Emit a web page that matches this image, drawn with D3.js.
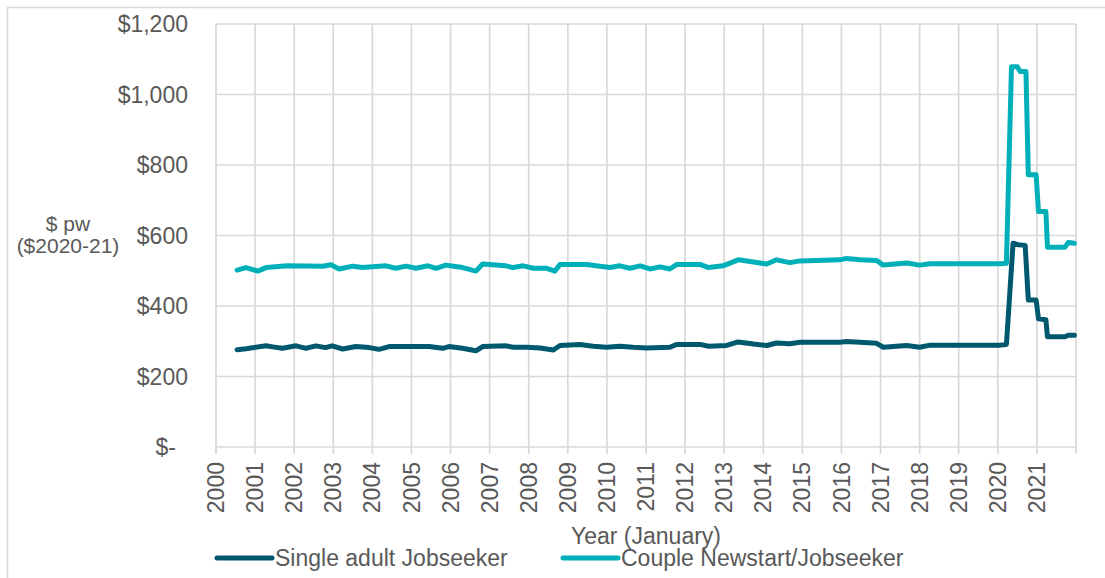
<!DOCTYPE html>
<html lang="en">
    <head>
        <meta charset="UTF-8" />
        <title>Jobseeker payments</title>
        <style>
            body { margin: 0; background: #ffffff; }
            text { font-family: "Liberation Sans", Arial, sans-serif; fill: #595959; }
        </style>
    </head>
    <body>
        <div id="chart"></div>
        <script src="https://d3js.org/d3.v7.min.js"></script>
        <script>

            // year ticks on the x axis (January of each year)
            var yearTicks = d3.range(2000, 2023);
            var yearLabels = d3.range(2000, 2022);

            // y axis ticks
            var valueTicks = [0, 200, 400, 600, 800, 1000, 1200];

            // series names
            var seriesNames = ["Single adult Jobseeker", "Couple Newstart/Jobseeker"];

            // Single adult Jobseeker, $ pw ($2020-21)
            var singleYears = [2000.54, 2000.77, 2001.28, 2001.45, 2001.70, 2002.05, 2002.30, 2002.56, 2002.80, 2002.97,
                               2003.24, 2003.58, 2003.92, 2004.17, 2004.43, 2005.45, 2005.80, 2005.96, 2006.30, 2006.65,
                               2006.82, 2007.42, 2007.60, 2007.95, 2008.29, 2008.63, 2008.80, 2009.31, 2009.65, 2009.99,
                               2010.33, 2010.67, 2011.01, 2011.61, 2011.79, 2012.38, 2012.60, 2013.06, 2013.36, 2013.75,
                               2014.09, 2014.34, 2014.68, 2014.94, 2015.96, 2016.13, 2016.47, 2016.90, 2017.07, 2017.67,
                               2018.00, 2018.27, 2020.06, 2020.22, 2020.39, 2020.52, 2020.70, 2020.78, 2020.98, 2021.04,
                               2021.23, 2021.27, 2021.72, 2021.80, 2021.96];
            var singleValues = [276, 279, 287, 284, 280, 287, 280, 287, 282, 287,
                                278, 285, 282, 277, 285, 285, 280, 285, 280, 273,
                                285, 287, 283, 283, 281, 275, 288, 291, 286, 283,
                                286, 283, 281, 283, 291, 291, 286, 288, 298, 292,
                                288, 295, 293, 297, 297, 299, 297, 294, 283, 288,
                                283, 289, 289, 291, 578, 574, 572, 417, 417, 364,
                                361, 313, 313, 317, 317];

            // Couple Newstart/Jobseeker
            var coupleYears = [2000.54, 2000.77, 2001.07, 2001.28, 2001.83, 2002.73, 2002.94, 2003.15, 2003.50, 2003.75,
                               2004.35, 2004.60, 2004.86, 2005.12, 2005.42, 2005.63, 2005.88, 2006.31, 2006.65, 2006.82,
                               2007.42, 2007.60, 2007.86, 2008.12, 2008.46, 2008.67, 2008.80, 2009.48, 2009.82, 2010.08,
                               2010.33, 2010.59, 2010.85, 2011.10, 2011.36, 2011.61, 2011.79, 2012.38, 2012.60, 2012.97,
                               2013.36, 2013.75, 2014.09, 2014.34, 2014.68, 2014.94, 2015.96, 2016.13, 2016.47, 2016.90,
                               2017.07, 2017.67, 2018.00, 2018.27, 2020.06, 2020.22, 2020.35, 2020.50, 2020.57, 2020.72,
                               2020.78, 2020.98, 2021.04, 2021.23, 2021.27, 2021.72, 2021.80, 2021.96];
            var coupleValues = [502, 509, 499, 509, 514, 513, 517, 505, 513, 509,
                                514, 507, 513, 507, 514, 507, 516, 509, 499, 519,
                                514, 509, 514, 507, 507, 499, 518, 518, 513, 509,
                                514, 507, 514, 505, 511, 505, 518, 518, 509, 514,
                                531, 525, 519, 531, 523, 528, 531, 535, 531, 529,
                                516, 522, 516, 520, 520, 521, 1079, 1079, 1065, 1065,
                                772, 772, 668, 668, 567, 567, 580, 578];

            var colors = ["#00586f", "#00b0b9"];

            var width = 1105, height = 578;
            var plot = {left: 216, right: 1076, top: 24, bottom: 447};

            var svg = d3.select("#chart")
              .append("svg")
                .attr("width", width)
                .attr("height", height);

            // chart frame (only left and top edges are visible)
            svg.append("path")
              .attr("d", "M7.5," + height + "V7.5H" + width)
              .attr("fill", "none")
              .attr("stroke", "#d9d9d9")
              .attr("stroke-width", 1.5);

            var x = d3.scaleLinear()
              .domain([2000, 2022])
              .range([plot.left, plot.right]);

            var y = d3.scaleLinear()
              .domain([0, 1200])
              .range([plot.bottom, plot.top]);

            // horizontal gridlines
            svg.append("g")
              .selectAll("line")
              .data(valueTicks)
              .enter()
              .append("line")
                .attr("x1", plot.left)
                .attr("x2", plot.right)
                .attr("y1", function(d) { return y(d); })
                .attr("y2", function(d) { return y(d); })
                .attr("stroke", "#d9d9d9")
                .attr("stroke-width", 1.7);

            // vertical gridlines with small tick marks below the axis
            svg.append("g")
              .selectAll("line")
              .data(yearTicks)
              .enter()
              .append("line")
                .attr("x1", function(d) { return x(d); })
                .attr("x2", function(d) { return x(d); })
                .attr("y1", plot.top)
                .attr("y2", plot.bottom + 7)
                .attr("stroke", "#d9d9d9")
                .attr("stroke-width", 1.7);

            // y tick labels
            var fmt = d3.format("$,");
            svg.append("g")
              .selectAll("text")
              .data(valueTicks)
              .enter()
              .append("text")
                .attr("x", function(d) { return d === 0 ? plot.left - 40 : plot.left - 28; })
                .attr("y", function(d) { return y(d); })
                .attr("dy", "0.35em")
                .attr("text-anchor", "end")
                .style("font-size", "23px")
                .text(function(d) { return d === 0 ? "$-" : fmt(d); });

            // x tick labels, rotated
            svg.append("g")
              .selectAll("text")
              .data(yearLabels)
              .enter()
              .append("text")
                .attr("transform", function(d) { return "translate(" + x(d) + "," + (plot.bottom + 15) + ")rotate(-90)"; })
                .attr("dy", "0.35em")
                .attr("text-anchor", "end")
                .style("font-size", "23px")
                .text(function(d) { return d; });

            // axis titles (the x title touches the legend, as in the original)
            svg.append("text")
              .attr("x", (plot.left + plot.right) / 2)
              .attr("y", 544)
              .attr("text-anchor", "middle")
              .style("font-size", "23px")
              .text("Year (January)");

            var ytitle = svg.append("text")
              .attr("text-anchor", "middle")
              .style("font-size", "21px");
            ytitle.append("tspan").attr("x", 68).attr("y", 231).text("$ pw");
            ytitle.append("tspan").attr("x", 68).attr("y", 253).text("($2020-21)");

            // the two series
            var line = d3.line()
              .x(function(d) { return x(d[0]); })
              .y(function(d) { return y(d[1]); });

            var series = [
              d3.zip(singleYears, singleValues),
              d3.zip(coupleYears, coupleValues)
            ];

            svg.append("g")
              .selectAll("path")
              .data(series)
              .enter()
              .append("path")
                .attr("d", line)
                .attr("fill", "none")
                .attr("stroke", function(d, i) { return colors[i]; })
                .attr("stroke-width", 5)
                .attr("stroke-linejoin", "round")
                .attr("stroke-linecap", "round");

            // legend
            var legendX = [217, 563];
            var legend = svg.append("g")
              .selectAll("g")
              .data(seriesNames)
              .enter()
              .append("g")
                .attr("transform", function(d, i) { return "translate(" + legendX[i] + ",558)"; });

            legend.append("line")
              .attr("x1", 0)
              .attr("x2", 55)
              .attr("stroke", function(d, i) { return colors[i]; })
              .attr("stroke-width", 5)
              .attr("stroke-linecap", "round");

            legend.append("text")
              .attr("x", 58)
              .attr("y", 8)
              .style("font-size", "23px")
              .text(function(d) { return d; });

        </script>
    </body>
</html>
